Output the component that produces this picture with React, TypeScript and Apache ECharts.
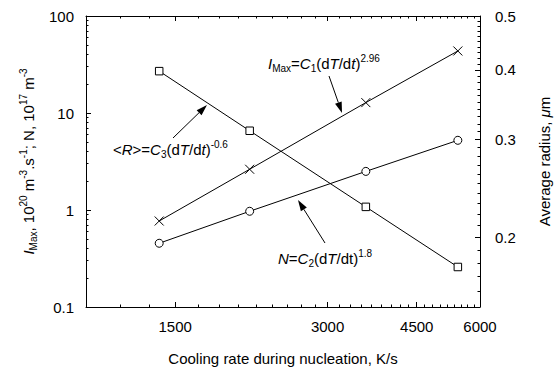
import React, { useEffect, useRef } from "react";
import * as echarts from "echarts";

// ---- data ----
const coolingRates = [1395, 2105, 3570, 5425]; // K/s
const iMax = [0.77, 2.63, 12.8, 43.6]; // 10^20 m^-3 s^-1
const nDensity = [0.454, 0.97, 2.5, 5.23]; // 10^17 m^-3
const avgRadius = [0.398, 0.311, 0.227, 0.177]; // micrometre

// ---- axes ----
const xRange = [1000, 6000];
const xTicks = [1500, 3000, 4500, 6000];
const xMinorStep = 1000 / 6;
const leftRange = [0.1, 100];
const leftTicks = [0.1, 1, 10, 100];
const leftMinorMultipliers = [2, 3, 4, 5, 6, 7, 8, 9];
const rightRange = [0.15, 0.5];
const rightTicks = [0.2, 0.3, 0.4, 0.5];
const rightMinorStep = 0.01;

const FONT = '"Liberation Sans", Arial, Helvetica, sans-serif';
const lg = (v: number) => Math.log10(v);

function buildXMinor(): number[] {
  const out: number[] = [];
  for (let k = 7; k < 36; k++) {
    if (k % 9 === 0) continue;
    out.push(k * xMinorStep);
  }
  return out;
}
function buildLeftMinor(): number[] {
  const out: number[] = [];
  for (let e = -1; e <= 1; e++) {
    for (const m of leftMinorMultipliers) out.push(m * Math.pow(10, e));
  }
  return out;
}
function buildRightMinor(): number[] {
  const out: number[] = [];
  for (let k = 16; k < 50; k++) {
    if (k % 10 === 0) continue;
    out.push(k * rightMinorStep);
  }
  return out;
}

const rich = (size: number) => ({
  n: { fontSize: size, fontFamily: FONT, color: "#000", lineHeight: 20 },
  i: { fontSize: size, fontFamily: FONT, fontStyle: "italic", color: "#000", lineHeight: 20 },
  sup: { fontSize: 10, fontFamily: FONT, color: "#000", lineHeight: 10, verticalAlign: "top" },
  sub: { fontSize: 10, fontFamily: FONT, color: "#000", lineHeight: 10, verticalAlign: "bottom" },
});

function arrow(x1: number, y1: number, x2: number, y2: number) {
  const dx = x2 - x1;
  const dy = y2 - y1;
  const len = Math.sqrt(dx * dx + dy * dy);
  const ux = dx / len;
  const uy = dy / len;
  const hl = 11;
  const hw = 3.5;
  const bx = x2 - ux * hl;
  const by = y2 - uy * hl;
  return [
    {
      type: "line",
      shape: { x1, y1, x2: bx, y2: by },
      style: { stroke: "#000", lineWidth: 1 },
      silent: true,
    },
    {
      type: "polygon",
      shape: {
        points: [
          [x2, y2],
          [bx - uy * hw, by + ux * hw],
          [bx + uy * hw, by - ux * hw],
        ],
      },
      style: { fill: "#000" },
      silent: true,
    },
  ];
}

function annotation(x: number, y: number, text: string) {
  return {
    type: "text",
    x,
    y,
    silent: true,
    style: {
      text,
      rich: rich(15),
      align: "left",
      verticalAlign: "middle",
      fontFamily: FONT,
      fontSize: 15,
      fill: "#000",
    },
  };
}

const majorTickStyle = { color: "#000", width: 1 };

function xAxisPair(position: "bottom" | "top", withLabels: boolean) {
  const base = {
    type: "value",
    position,
    min: lg(xRange[0]),
    max: lg(xRange[1]),
    splitLine: { show: false },
  };
  const major: any = {
    ...base,
    axisLine: { show: true, onZero: false, lineStyle: { color: "#000", width: 1 } },
    axisTick: { show: true, inside: true, length: 5, customValues: xTicks.map(lg), lineStyle: majorTickStyle },
    axisLabel: withLabels
      ? {
          show: true,
          customValues: xTicks.map(lg),
          formatter: (v: number) => String(Math.round(Math.pow(10, v))),
          margin: 12,
          fontSize: 15,
          fontFamily: FONT,
          color: "#000",
        }
      : { show: false },
  };
  if (withLabels) {
    major.name = "Cooling rate during nucleation, K/s";
    major.nameLocation = "middle";
    major.nameGap = 44;
    major.nameTextStyle = { fontSize: 15, fontFamily: FONT, color: "#000" };
  }
  const minor = {
    ...base,
    axisLine: { show: false, onZero: false },
    axisTick: { show: true, inside: true, length: 2.5, customValues: buildXMinor().map(lg), lineStyle: majorTickStyle },
    axisLabel: { show: false },
  };
  return [major, minor];
}

export default function App() {
  const ref = useRef<HTMLDivElement>(null);

  useEffect(() => {
    document.body.style.margin = "0";
    if (!ref.current) return;
    const chart = echarts.init(ref.current, null, { renderer: "svg" });

    const leftName =
      "{i|I}{sub|Max}{n|, 10}{sup|20}{n| m}{sup|-3}{n|.s}{sup|-1}{n|; N, 10}{sup|17}{n| m}{sup|-3}";

    const option: any = {
      animation: false,
      backgroundColor: "#fff",
      grid: { left: 86, right: 77, top: 16, bottom: 64, containLabel: false },
      xAxis: [...xAxisPair("bottom", true), ...xAxisPair("top", false)],
      yAxis: [
        {
          type: "value",
          position: "left",
          min: lg(leftRange[0]),
          max: lg(leftRange[1]),
          splitLine: { show: false },
          axisLine: { show: true, onZero: false, lineStyle: { color: "#000", width: 1 } },
          axisTick: { show: true, inside: true, length: 5, customValues: leftTicks.map(lg), lineStyle: majorTickStyle },
          axisLabel: {
            show: true,
            customValues: leftTicks.map(lg),
            formatter: (v: number) => {
              const p = Math.pow(10, v);
              return p < 1 ? p.toFixed(1) : String(Math.round(p));
            },
            margin: 12,
            fontSize: 15,
            fontFamily: FONT,
            color: "#000",
          },
          name: leftName,
          nameLocation: "middle",
          nameRotate: 90,
          nameGap: 48,
          nameTextStyle: { fontSize: 15, fontFamily: FONT, color: "#000", rich: rich(15) },
        },
        {
          type: "value",
          position: "left",
          min: lg(leftRange[0]),
          max: lg(leftRange[1]),
          splitLine: { show: false },
          axisLine: { show: false, onZero: false },
          axisTick: { show: true, inside: true, length: 2.5, customValues: buildLeftMinor().map(lg), lineStyle: majorTickStyle },
          axisLabel: { show: false },
        },
        {
          type: "value",
          position: "right",
          min: lg(rightRange[0]),
          max: lg(rightRange[1]),
          splitLine: { show: false },
          axisLine: { show: true, onZero: false, lineStyle: { color: "#000", width: 1 } },
          axisTick: { show: true, inside: true, length: 5, customValues: rightTicks.map(lg), lineStyle: majorTickStyle },
          axisLabel: {
            show: true,
            customValues: rightTicks.map(lg),
            formatter: (v: number) => Math.pow(10, v).toFixed(1),
            margin: 15,
            fontSize: 15,
            fontFamily: FONT,
            color: "#000",
          },
          name: "Average radius, {i|μ}{n|m}",
          nameLocation: "middle",
          nameRotate: 90,
          nameGap: 57,
          nameTextStyle: {
            fontSize: 15,
            fontFamily: FONT,
            color: "#000",
            rich: {
              n: { fontSize: 15, fontFamily: FONT, color: "#000" },
              i: { fontSize: 15, fontFamily: FONT, fontStyle: "italic", color: "#000" },
            },
          },
        },
        {
          type: "value",
          position: "right",
          min: lg(rightRange[0]),
          max: lg(rightRange[1]),
          splitLine: { show: false },
          axisLine: { show: false, onZero: false },
          axisTick: { show: true, inside: true, length: 2.5, customValues: buildRightMinor().map(lg), lineStyle: majorTickStyle },
          axisLabel: { show: false },
        },
      ],
      series: [
        {
          name: "I_Max",
          type: "line",
          xAxisIndex: 0,
          yAxisIndex: 0,
          data: coolingRates.map((c, i) => [lg(c), lg(iMax[i])]),
          symbol: "path://M0 0L10 10M10 0L0 10",
          symbolSize: 9,
          showAllSymbol: true,
          lineStyle: { color: "#000", width: 1 },
          itemStyle: { color: "#000", borderColor: "#000", borderWidth: 1 },
          silent: true,
        },
        {
          name: "N",
          type: "line",
          xAxisIndex: 0,
          yAxisIndex: 0,
          data: coolingRates.map((c, i) => [lg(c), lg(nDensity[i])]),
          symbol: "circle",
          symbolSize: 8,
          showAllSymbol: true,
          lineStyle: { color: "#000", width: 1 },
          itemStyle: { color: "#fff", borderColor: "#000", borderWidth: 1 },
          silent: true,
        },
        {
          name: "R",
          type: "line",
          xAxisIndex: 0,
          yAxisIndex: 2,
          data: coolingRates.map((c, i) => [lg(c), lg(avgRadius[i])]),
          symbol: "rect",
          symbolSize: 7.5,
          showAllSymbol: true,
          lineStyle: { color: "#000", width: 1 },
          itemStyle: { color: "#fff", borderColor: "#000", borderWidth: 1 },
          silent: true,
        },
      ],
      graphic: [
        annotation(268, 63, "{i|I}{sub|Max}{n|=}{i|C}{sub|1}{n|(d}{i|T}{n|/d}{i|t}{n|)}{sup|2.96}"),
        ...arrow(329, 76, 342, 113),
        annotation(113, 149, "{n|<}{i|R}{n|>=}{i|C}{sub|3}{n|(d}{i|T}{n|/d}{i|t}{n|)}{sup|-0.6}"),
        ...arrow(173, 138, 207, 105),
        annotation(278, 258, "{i|N}{n|=}{i|C}{sub|2}{n|(d}{i|T}{n|/dt)}{sup|1.8}"),
        ...arrow(325, 243, 298, 200),
      ],
    };

    chart.setOption(option);
    return () => chart.dispose();
  }, []);

  return <div ref={ref} style={{ width: 560, height: 371 }} />;
}
